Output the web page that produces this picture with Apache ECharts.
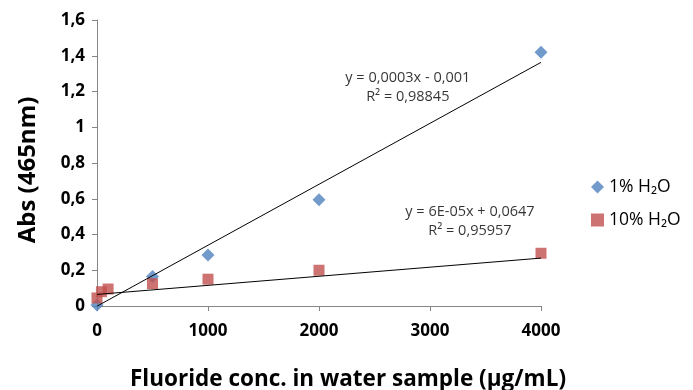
<!DOCTYPE html>
<html><head><meta charset="utf-8">
<script src="https://cdn.jsdelivr.net/npm/echarts@6/dist/echarts.min.js"></script>
<style>html,body{margin:0;padding:0;background:#fff}#c{width:693px;height:390px}</style>
</head><body><div id="c"></div>
<script>
const seriesNames = ['1% H₂O', '10% H₂O'];
const xBlue = [0, 500, 1000, 2000, 4000];
const yBlue = [0.005, 0.165, 0.285, 0.595, 1.42];
const xRed = [0, 40, 100, 500, 1000, 2000, 4000];
const yRed = [0.045, 0.08, 0.095, 0.125, 0.15, 0.2, 0.295];
const trendBlue = [[0, -0.001], [4000, 1.363]];
const trendRed = [[0, 0.0647], [4000, 0.268]];
const eqBlue = ['y = 0,0003x - 0,001', 'R² = 0,98845'];
const eqRed = ['y = 6E-05x + 0,0647', 'R² = 0,95957'];
const eqBluePos = [2800, 1.225];
const eqRedPos = [3360, 0.475];
const yTicks = [0, 0.2, 0.4, 0.6, 0.8, 1, 1.2, 1.4, 1.6];
const xTicks = [0, 1000, 2000, 3000, 4000];

const F = 'Open Sans';
const chart = echarts.init(document.getElementById('c'));
const zip = (a, b) => a.map((v, i) => [v, b[i]]);
chart.setOption({
  animation: false,
  grid: { left: 97, right: 152, top: 20, bottom: 84, containLabel: false, outerBoundsMode: 'none' },
  legend: {
    data: [{ name: seriesNames[0], icon: 'diamond' }, { name: seriesNames[1], icon: 'rect' }],
    orient: 'vertical', left: 586, top: 173, itemGap: 15, itemWidth: 13, itemHeight: 13,
    textStyle: { fontFamily: F, fontSize: 17.5, color: '#000' }
  },
  xAxis: {
    type: 'value', min: 0, max: 4000, interval: 1000,
    name: 'Fluoride conc. in water sample (μg/mL)', nameLocation: 'middle', nameGap: 62,
    nameTextStyle: { fontFamily: F, fontSize: 22.5, fontWeight: 'bold', color: '#000', padding: [0, 0, 0, 58] },
    axisLine: { lineStyle: { color: '#868686' } },
    axisTick: { show: true, length: 5, lineStyle: { color: '#868686' } },
    axisLabel: { fontFamily: F, fontSize: 17, fontWeight: 'bold', color: '#000', margin: 17,
      formatter: v => String(v) },
    splitLine: { show: false }
  },
  yAxis: {
    type: 'value', min: 0, max: 1.6, interval: 0.2,
    name: 'Abs (465nm)', nameLocation: 'middle', nameGap: 57,
    nameTextStyle: { fontFamily: F, fontSize: 24, fontWeight: 'bold', color: '#000', padding: [0, 14, 0, 0] },
    axisLine: { show: true, lineStyle: { color: '#868686' } },
    axisTick: { show: true, length: 5, lineStyle: { color: '#868686' } },
    axisLabel: { fontFamily: F, fontSize: 17, fontWeight: 'bold', color: '#000', margin: 12,
      formatter: v => String(Math.round(v * 10) / 10).replace('.', ',') },
    splitLine: { show: false }
  },
  series: [
    { name: 'trendBlue', type: 'line', data: trendBlue, symbol: 'none', silent: true,
      lineStyle: { color: '#000', width: 1 }, z: 3 },
    { name: 'trendRed', type: 'line', data: trendRed, symbol: 'none', silent: true,
      lineStyle: { color: '#000', width: 1 }, z: 3 },
    { name: seriesNames[1], type: 'scatter', data: zip(xRed, yRed), symbol: 'rect', symbolSize: 11,
      itemStyle: { color: '#C0504D' }, z: 2 },
    { name: seriesNames[0], type: 'scatter', data: zip(xBlue, yBlue), symbol: 'diamond', symbolSize: 13,
      itemStyle: { color: '#4F81BD' }, z: 1 },
    { name: 'eq', type: 'scatter', symbolSize: 0, silent: true, z: 5,
      data: [
        { value: eqBluePos, label: { formatter: eqBlue.join('\n') } },
        { value: eqRedPos, label: { formatter: eqRed.join('\n') } }
      ],
      label: { show: true, position: 'inside', fontFamily: F, fontSize: 14.5, color: '#000',
        lineHeight: 19, align: 'center', verticalAlign: 'middle' } }
  ]
});
</script></body></html>
